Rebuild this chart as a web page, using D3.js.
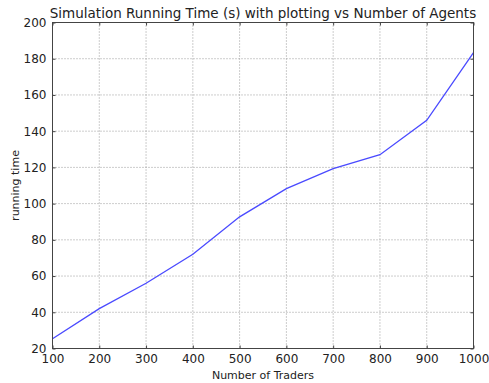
<!DOCTYPE html>
<html>
<head>
<meta charset="utf-8">
<script src="https://cdn.jsdelivr.net/npm/d3@7"></script>
<style>
  body { margin: 0; background: #fff; }
  svg text { font-family: "DejaVu Sans", sans-serif; fill: #222; }
</style>
</head>
<body>
<div id="chart"></div>
<script>
// data
const traders = [100, 200, 300, 400, 500, 600, 700, 800, 900, 1000];
const runTime = [25.4, 42, 56, 72, 92.7, 108.3, 119.3, 127, 146, 183.4];
const xTicks = [100, 200, 300, 400, 500, 600, 700, 800, 900, 1000];
const yTicks = [20, 40, 60, 80, 100, 120, 140, 160, 180, 200];

const W = 489, H = 383;
const m = {left: 52.5, right: 15.5, top: 22.5, bottom: 34.5};

const svg = d3.select("#chart").append("svg")
    .attr("width", W).attr("height", H);

const x = d3.scaleLinear().domain([100, 1000]).range([m.left, W - m.right]);
const y = d3.scaleLinear().domain([20, 200]).range([H - m.bottom, m.top]);

// grid
const grid = svg.append("g").attr("class", "grid");
grid.selectAll("line.vx")
    .data(xTicks.slice(1, -1))
    .enter().append("line")
    .attr("x1", d => x(d)).attr("x2", d => x(d))
    .attr("y1", m.top).attr("y2", H - m.bottom)
    .attr("stroke", "#9a9a9a").attr("stroke-dasharray", "1,2");
grid.selectAll("line.hy")
    .data(yTicks.slice(1, -1))
    .enter().append("line")
    .attr("x1", m.left).attr("x2", W - m.right)
    .attr("y1", d => y(d)).attr("y2", d => y(d))
    .attr("stroke", "#9a9a9a").attr("stroke-dasharray", "1,2");

// line
const line = d3.line()
    .x((d, i) => x(traders[i]))
    .y(d => y(d));

svg.append("path")
    .datum(runTime)
    .attr("fill", "none")
    .attr("stroke", "#4a4aff")
    .attr("stroke-width", 1.3)
    .attr("d", line);

// axes, ticks pointing inward like classic matplotlib
const tl = 3;
const fmt = d3.format("d");
svg.append("g")
    .attr("transform", "translate(0," + (H - m.bottom) + ")")
    .call(d3.axisBottom(x).tickValues(xTicks).tickFormat(fmt).tickSizeInner(-tl).tickSizeOuter(0).tickPadding(6))
    .call(g => g.select(".domain").remove());
svg.append("g")
    .attr("transform", "translate(0," + m.top + ")")
    .call(d3.axisTop(x).tickValues(xTicks).tickSizeInner(-tl).tickSizeOuter(0).tickFormat(""))
    .call(g => g.select(".domain").remove());
svg.append("g")
    .attr("transform", "translate(" + m.left + ",0)")
    .call(d3.axisLeft(y).tickValues(yTicks).tickFormat(fmt).tickSizeInner(-tl).tickSizeOuter(0).tickPadding(6))
    .call(g => g.select(".domain").remove());
svg.append("g")
    .attr("transform", "translate(" + (W - m.right) + ",0)")
    .call(d3.axisRight(y).tickValues(yTicks).tickSizeInner(-tl).tickSizeOuter(0).tickFormat(""))
    .call(g => g.select(".domain").remove());

svg.selectAll(".tick line").attr("stroke", "#444");
svg.selectAll(".tick text")
    .attr("font-size", 12)
    .attr("font-family", "DejaVu Sans, sans-serif")
    .attr("fill", "#222");

// frame
svg.append("rect")
    .attr("x", m.left).attr("y", m.top)
    .attr("width", W - m.left - m.right)
    .attr("height", H - m.top - m.bottom)
    .attr("fill", "none")
    .attr("stroke", "#444").attr("stroke-width", 1);

// title and labels
svg.append("text")
    .attr("x", (m.left + W - m.right) / 2).attr("y", 18)
    .attr("text-anchor", "middle")
    .attr("font-size", 13.5)
    .text("Simulation Running Time (s) with plotting vs Number of Agents");

svg.append("text")
    .attr("x", (m.left + W - m.right) / 2).attr("y", 379)
    .attr("text-anchor", "middle")
    .attr("font-size", 11)
    .text("Number of Traders");

svg.append("text")
    .attr("transform", "translate(19," + ((m.top + H - m.bottom) / 2) + ") rotate(-90)")
    .attr("text-anchor", "middle")
    .attr("font-size", 11)
    .text("running time");
</script>
</body>
</html>
